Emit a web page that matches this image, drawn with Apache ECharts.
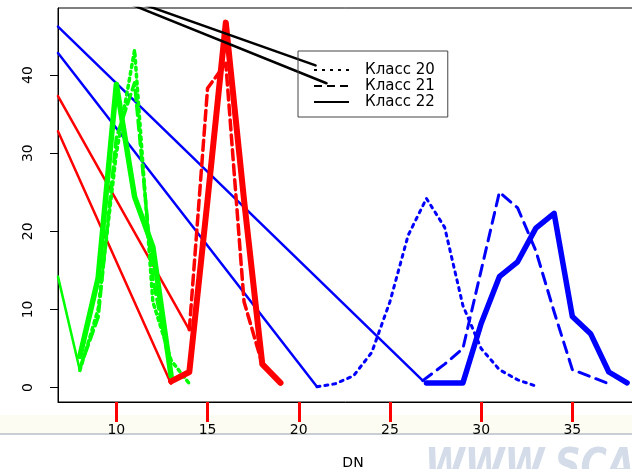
<!DOCTYPE html>
<html>
<head>
<meta charset="utf-8">
<script src="https://cdn.jsdelivr.net/npm/echarts@6/dist/echarts.min.js"></script>
<style>
html, body { margin: 0; padding: 0; background: #fff; }
#chart { width: 632px; height: 469px; }
</style>
</head>
<body>
<div id="chart"></div>
<script>
// values (DN on x, count on y)
var xTicks = [10, 15, 20, 25, 30, 35]
var yTicks = [0, 10, 20, 30, 40]
var classNames = ['Класс 20', 'Класс 21', 'Класс 22']

// green group
var greenX20 = [8, 9, 10, 11, 12, 13, 14]
var greenY20 = [2.2, 10, 30, 43.2, 11, 3.5, 0.5]
var greenX21 = [8, 9, 10, 11, 12, 13]
var greenY21 = [2.5, 9, 32, 39, 14, 2]
var greenX22 = [8, 9, 10, 11, 12, 13]
var greenY22 = [4, 14, 38.8, 24.4, 18, 1.5]
var greenBackX = [6.8, 8]
var greenBackY = [14.2, 2.2]

// red group
var redX21 = [14, 15, 16, 17, 18]
var redY21 = [7.4, 38.3, 41.5, 11, 3]
var redX22 = [13, 14, 15, 16, 17, 18, 19]
var redY22 = [0.8, 2, 24, 46.7, 24, 3, 0.6]
var redBack1X = [6.8, 14]
var redBack1Y = [37.3, 7.4]
var redBack2X = [6.8, 13]
var redBack2Y = [32.8, 0.5]

// blue group
var blueX20 = [21, 22, 23, 24, 25, 26, 27, 28, 29, 30, 31, 32, 33]
var blueY20 = [0.1, 0.5, 1.5, 4.5, 11, 19.5, 24.2, 20.5, 10.5, 5, 2.3, 1, 0.2]
var blueX21 = [26.8, 28, 29, 30, 31, 32, 33, 34, 35, 36, 37]
var blueY21 = [0.9, 3, 5, 15, 25, 23, 17.5, 9.7, 2.3, 1.4, 0.5]
var blueX22 = [27, 28, 29, 30, 31, 32, 33, 34, 35, 36, 37, 38]
var blueY22 = [0.6, 0.6, 0.6, 8.2, 14.2, 16.1, 20.4, 22.3, 9.1, 6.9, 2, 0.6]
var blueBack1X = [6.8, 21]
var blueBack1Y = [42.8, 0.1]
var blueBack2X = [6.8, 26.8]
var blueBack2Y = [46.2, 0.9]

// black lines running into the legend
var blackAX = [6.8, 20.92]
var blackAY = [52.9, 41.23]
var blackBX = [6.8, 21.52]
var blackBY = [52.8, 38.94]

function pairs(xs, ys) {
  var out = []
  for (var i = 0; i < xs.length; i++) out.push([xs[i], ys[i]])
  return out
}

function line(xs, ys, color, width, type) {
  return {
    type: 'line',
    data: pairs(xs, ys),
    symbol: 'none',
    silent: true,
    clip: true,
    lineStyle: { color: color, width: width, type: type || 'solid', cap: 'round', join: 'round' }
  }
}

var FONT = 'DejaVu Sans'
var dotted = [3, 4]
var dashed = [10, 5]

var series = [
  line(greenBackX, greenBackY, '#00ff00', 2.5),
  line(redBack1X, redBack1Y, '#ff0000', 2.5),
  line(redBack2X, redBack2Y, '#ff0000', 2.5),
  line(blueBack1X, blueBack1Y, '#0000ff', 2.5),
  line(blueBack2X, blueBack2Y, '#0000ff', 2.5),
  line(greenX20, greenY20, '#00ff00', 3.5, dotted),
  line(greenX21, greenY21, '#00ff00', 3.5, dashed),
  line(redX21, redY21, '#ff0000', 3.5, dashed),
  line(blueX20, blueY20, '#0000ff', 3, [3, 5]),
  line(blueX21, blueY21, '#0000ff', 3, [11, 7]),
  line(greenX22, greenY22, '#00ff00', 5.5),
  line(redX22, redY22, '#ff0000', 6),
  line(blueX22, blueY22, '#0000ff', 5.5),
  line(blackAX, blackAY, '#000000', 2.5),
  line(blackBX, blackBY, '#000000', 2.5)
]

// legend-only series
var legendTypes = [[3, 5], [8, 5], 'solid']
for (var k = 0; k < classNames.length; k++) {
  series.push({
    name: classNames[k],
    type: 'line',
    data: [],
    symbol: 'none',
    color: '#000',
    lineStyle: { color: '#000', width: 2, type: legendTypes[k] }
  })
}

var chart = echarts.init(document.getElementById('chart'))
chart.setOption({
  animation: false,
  backgroundColor: '#fff',
  grid: {
    left: 58, top: 8, right: -4, bottom: 67,
    outerBoundsMode: 'none', containLabel: false,
    show: true, borderColor: '#000', borderWidth: 1
  },
  xAxis: {
    type: 'value',
    min: 6.8,
    max: 38.49,
    name: 'DN',
    nameLocation: 'middle',
    nameGap: 54,
    nameTextStyle: { fontFamily: FONT, fontSize: 14, color: '#000', padding: [0, 0, 0, 12] },
    axisLine: { show: true, onZero: false, lineStyle: { color: '#000' } },
    axisTick: { show: true, length: 20, customValues: xTicks, lineStyle: { color: '#f00', width: 3 } },
    axisLabel: { customValues: xTicks, margin: 21, fontFamily: FONT, fontSize: 14, color: '#000' },
    splitLine: { show: false }
  },
  yAxis: {
    type: 'value',
    min: -1.84,
    max: 48.57,
    axisLine: { show: true, lineStyle: { color: '#000' } },
    axisTick: { show: true, length: 8, customValues: yTicks, lineStyle: { color: '#000' } },
    axisLabel: { customValues: yTicks, rotate: 90, margin: 23, fontFamily: FONT, fontSize: 14, color: '#000' },
    splitLine: { show: false }
  },
  legend: {
    orient: 'vertical',
    left: 298,
    top: 51,
    padding: [11, 13, 7, 15],
    itemGap: 0,
    itemWidth: 35,
    itemHeight: 14,
    borderColor: '#444',
    borderWidth: 1,
    itemStyle: { opacity: 0 },
    textStyle: { fontFamily: FONT, fontSize: 15, lineHeight: 16, color: '#000', padding: [0, 0, 0, 11] },
    data: classNames
  },
  graphic: [
    { type: 'rect', left: 0, top: 415, shape: { width: 632, height: 18 }, style: { fill: '#fcfcf3' }, z: -10 },
    { type: 'rect', left: 0, top: 433, shape: { width: 632, height: 2 }, style: { fill: '#c9ced4' }, z: -10 },
    { type: 'text', left: 425, top: 446, scaleY: 1.25, style: { text: 'WWW.SCAN', font: 'italic bold 36px "DejaVu Sans"', fill: '#d3dce8' }, z: -10 }
  ],
  series: series
})
</script>
</body>
</html>
